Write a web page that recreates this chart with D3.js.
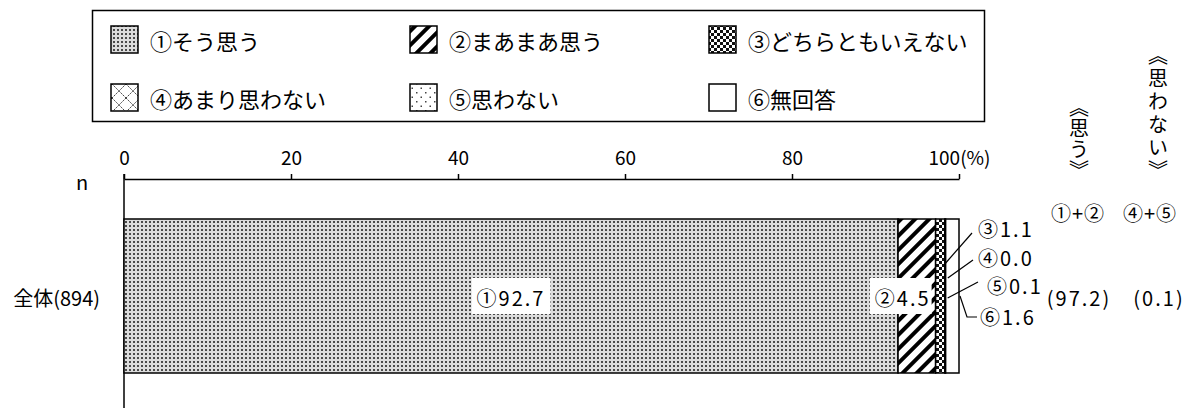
<!DOCTYPE html>
<html><head><meta charset="utf-8">
<script src="https://cdn.jsdelivr.net/npm/d3@7"></script>
<style>
html,body{margin:0;padding:0;background:#fff;}
svg{display:block;font-family:"Noto Sans CJK JP","Noto Sans",sans-serif;}
</style></head>
<body>
<script>
// ---- data ----
const categories = ["全体(894)"];
const seriesNames = ["①そう思う","②まあまあ思う","③どちらともいえない","④あまり思わない","⑤思わない","⑥無回答"];
const seriesKeys = ["s1","s2","s3","s4","s5","s6"];
const values = [[92.7, 4.5, 1.1, 0.0, 0.1, 1.6]];
const sumAgree = ["(97.2)"];
const sumDisagree = ["(0.1)"];
const sumHeaders = ["①+②","④+⑤"];
const sumTitles = ["《思う》","《思わない》"];
const tickValues = [0,20,40,60,80,100];
const tickLabels = ["0","20","40","60","80","100(%)"];

const W = 1197, H = 410;
const svg = d3.select("body").append("svg").attr("width",W).attr("height",H);
const defs = svg.append("defs");

// patterns
function pat(id,w,h,fn,bg){
  const p = defs.append("pattern").attr("id",id).attr("patternUnits","userSpaceOnUse")
    .attr("width",w).attr("height",h);
  p.append("rect").attr("width",w).attr("height",h).attr("fill",bg||"#fff");
  fn(p); return p;
}
pat("p1",4,4,p=>{ p.append("rect").attr("x",1).attr("y",1).attr("width",2).attr("height",2).attr("fill","#4a4a4a"); },"#dcdcdc");
const p2 = pat("p2",10,10,p=>{ p.append("rect").attr("x",0).attr("y",0).attr("width",4).attr("height",10).attr("fill","#000"); });
p2.attr("patternTransform","rotate(45)");
pat("p3",6,6,p=>{
  p.append("rect").attr("x",0).attr("y",0).attr("width",3).attr("height",3).attr("fill","#111");
  p.append("rect").attr("x",3).attr("y",3).attr("width",3).attr("height",3).attr("fill","#111");
});
pat("p4",14,14,p=>{
  p.append("path").attr("d","M0,0L14,14M14,0L0,14").attr("stroke","#444").attr("stroke-width",1).attr("stroke-dasharray","2,1");
});
pat("p5",9,9,p=>{
  p.append("rect").attr("x",2).attr("y",2).attr("width",1.5).attr("height",1.5).attr("fill","#444");
  p.append("rect").attr("x",6.5).attr("y",6.5).attr("width",1.5).attr("height",1.5).attr("fill","#444");
});
const fills = ["url(#p1)","url(#p2)","url(#p3)","url(#p4)","url(#p5)","#fff"];

// ---- legend ----
const lg = svg.append("g");
lg.append("rect").attr("x",92.5).attr("y",10.5).attr("width",892).attr("height",111)
  .attr("fill","#fff").attr("stroke","#000").attr("stroke-width",1.5);
const colX = [111,410,709], rowY = [39,97];
seriesNames.forEach((name,i)=>{
  const cx = colX[i%3], cy = rowY[Math.floor(i/3)];
  lg.append("rect").attr("x",cx).attr("y",cy-13).attr("width",27).attr("height",27)
    .attr("fill",fills[i]).attr("stroke","#000").attr("stroke-width",1.5);
  lg.append("text").attr("x",cx+39).attr("y",cy+1).attr("dominant-baseline","central")
    .attr("font-size",22).attr("fill","#000").text(name);
});

// ---- scales ----
const x = d3.scaleLinear().domain([0,100]).range([124,959]);
const y = d3.scaleBand().domain(categories).range([219,373]);

const axisG = svg.append("g").attr("transform","translate(0,179)")
  .call(d3.axisTop(x).tickValues(tickValues).tickSize(5).tickPadding(9).tickSizeOuter(0)
    .tickFormat((d,i)=>tickLabels[i]));
axisG.select(".domain").attr("stroke","#000").attr("stroke-width",1.5);
axisG.selectAll(".tick line").attr("stroke","#000").attr("stroke-width",1.5);
axisG.selectAll(".tick text").attr("font-size",19).attr("fill","#000")
  .attr("font-family","\"Noto Sans CJK JP\",sans-serif");

// vertical baseline
svg.append("line").attr("x1",x(0)).attr("x2",x(0)).attr("y1",174).attr("y2",408)
  .attr("stroke","#000").attr("stroke-width",1.5);

svg.append("text").attr("x",82).attr("y",181).attr("dominant-baseline","central")
  .attr("text-anchor","middle").attr("font-size",20).text("n");

// ---- stacked bars ----
const rows = categories.map((c,ci)=>{ const o={cat:c}; seriesKeys.forEach((k,i)=>o[k]=values[ci][i]); return o; });
const stack = d3.stack().keys(seriesKeys)(rows);
const barG = svg.append("g");
stack.forEach((layer,i)=>{
  barG.selectAll(null).data(layer).enter().append("rect")
    .attr("x",d=>x(d[0])).attr("y",d=>y(d.data.cat))
    .attr("width",d=>x(d[1])-x(d[0])).attr("height",y.bandwidth())
    .attr("fill",fills[i]).attr("stroke","#000").attr("stroke-width",1.5);
});

// category label
categories.forEach(c=>{
  svg.append("text").attr("x",100).attr("y",y(c)+y.bandwidth()/2+1).attr("text-anchor","end")
    .attr("dominant-baseline","central").attr("font-size",20).text(c);
});

const circ = ["①","②","③","④","⑤","⑥"];
const fmt = v => v.toFixed(1);
const LS = 2; // letter spacing for number labels

categories.forEach((c,ci)=>{
  const cy = y(c)+y.bandwidth()/2;
  // inside labels with white boxes (series 0,1)
  [0,1].forEach(i=>{
    const d = stack[i][ci];
    const g = svg.append("g");
    const t = g.append("text").attr("dominant-baseline","central").attr("font-size",20)
      .attr("letter-spacing",LS).attr("y",cy+1).text(circ[i]+fmt(values[ci][i]));
    if(i===0){ t.attr("x",(x(d[0])+x(d[1]))/2).attr("text-anchor","middle"); }
    else { t.attr("x",x(d[1])-5).attr("text-anchor","end"); }
    const bb = t.node().getBBox();
    g.insert("rect","text").attr("x",bb.x-5).attr("y",cy-18).attr("width",bb.width+(i===0?10:6)).attr("height",36).attr("fill","#fff");
  });
  // callouts for 3..6
  const callouts = [
    {i:2, sx:0, sy:264, ex:972, ey:233, tx:978, ty:228},
    {i:3, sx:3, sy:278, ex:973, ey:260, tx:978, ty:257},
    {i:4, sx:2, sy:298, ex:978, ey:282, tx:987, ty:285},
    {i:5, sx:1, sy:296, ex:967, ey:317, tx:980, ty:316, hook:977}
  ];
  callouts.forEach(co=>{
    const d = stack[co.i][ci];
    const sx = x(d[1]) + co.sx;
    let path = `M${sx},${co.sy}L${co.ex},${co.ey}`;
    if(co.hook) path += `L${co.hook},${co.ey}`;
    svg.append("path").attr("d",path).attr("fill","none").attr("stroke","#000").attr("stroke-width",1.2);
    svg.append("text").attr("x",co.tx).attr("y",co.ty).attr("dominant-baseline","central")
      .attr("letter-spacing",LS).attr("font-size",20).text(circ[co.i]+fmt(values[ci][co.i]));
  });
  // sums
  svg.append("text").attr("x",1079).attr("y",cy+1).attr("text-anchor","middle").attr("dominant-baseline","central")
    .attr("letter-spacing",LS).attr("font-size",20).text(sumAgree[ci]);
  svg.append("text").attr("x",1159).attr("y",cy+1).attr("text-anchor","middle").attr("dominant-baseline","central")
    .attr("letter-spacing",LS).attr("font-size",20).text(sumDisagree[ci]);
});

// sum headers
[1078,1150].forEach((hx,i)=>{
  svg.append("text").attr("x",hx).attr("y",212).attr("text-anchor","middle").attr("dominant-baseline","central")
    .attr("letter-spacing",1).attr("font-size",20).text(sumHeaders[i]);
});
// vertical titles (vertical writing mode)
const titleLS = [1,3];
[1079,1158].forEach((vx,i)=>{
  svg.append("text").attr("x",vx).attr("y",180+titleLS[i]).attr("text-anchor","end")
    .attr("writing-mode","vertical-rl")
    .style("writing-mode","vertical-rl").style("text-orientation","upright")
    .attr("letter-spacing",titleLS[i]).attr("font-size",20).text(sumTitles[i]);
});
</script>
</body></html>
